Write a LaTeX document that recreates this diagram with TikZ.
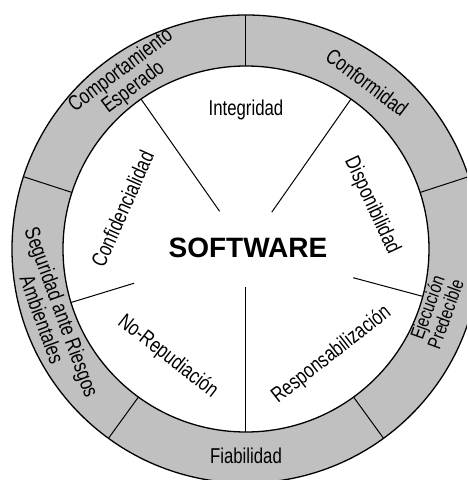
\documentclass[tikz,border=0pt]{standalone}
\usepackage{fontspec}
\setmainfont{Liberation Sans}
\newfontfamily\narrowfont{Liberation Sans}[FakeStretch=0.78]
\definecolor{ringgray}{RGB}{192,192,192}
\tikzset{
  ringlabel/.style={inner sep=0pt, align=center, font=\narrowfont\fontsize{21.5}{15.5}\selectfont},
  innerlabel/.style={inner sep=0pt, font=\narrowfont\fontsize{21.5}{15.5}\selectfont},
  wheelline/.style={line width=1pt, black},
}
\begin{document}
\begin{tikzpicture}[x=1pt,y=1pt]
 \clip (-246,-231) rectangle (221,249);
 % outer ring
 \fill[ringgray,even odd rule] (0,0) circle (234) (0,0) circle (183);
 \draw[line width=1.3pt] (0,0) circle (234);
 \draw[line width=1.3pt] (0,0) circle (183);
 \foreach \a in {90,18,-54,-126,162}
   \draw[wheelline] (\a:183) -- (\a:234);
 % spokes
 \foreach \a/\r in {125/46,55/45,-15/111,-90/38,197/117}
   \draw[wheelline] (\a:\r) -- (\a:183);
 % ring labels
 \node[ringlabel,rotate=37] (comport) at (125:207) {Comportamiento\\Esperado};
 \node[ringlabel,rotate=-37] (conform) at (54:206) {Conformidad};
 \node[ringlabel,rotate=70,font=\narrowfont\fontsize{19.5}{14}\selectfont] (ejecuc) at (-18:200) {Ejecución\\Predecible};
 \node[ringlabel] (fiabil) at (-90:207) {Fiabilidad};
 \node[ringlabel,rotate=-70] (segurid) at (199:205) {Seguridad ante Riesgos\\Ambientales};
 % inner labels
 \node[innerlabel] (integr) at (90:139) {Integridad};
 \node[innerlabel,rotate=-65] (dispon) at (19:133) {Disponibilidad};
 \node[innerlabel,rotate=38] (respons) at (-51:136) {Responsabilización};
 \node[innerlabel,rotate=-38] (norepud) at (234:133) {No-Repudiación};
 \node[innerlabel,rotate=66] (confid) at (162:130) {Confidencialidad};
 \node[inner sep=0pt,font=\bfseries\fontsize{28}{30}\selectfont] (softw) at (2,1) {SOFTWARE};
\end{tikzpicture}
\end{document}
